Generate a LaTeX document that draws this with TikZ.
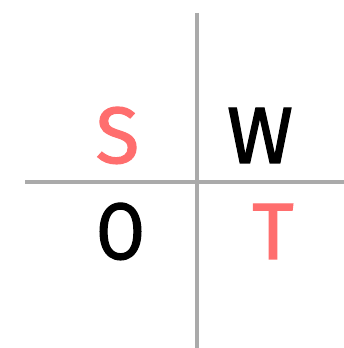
\documentclass[tikz,border=0pt]{standalone}
\usepackage{fontspec}
\setmainfont{Fira Sans}[FakeBold=1.5]
\definecolor{swotred}{HTML}{FF6E6E}
\definecolor{crossgray}{HTML}{AAAAAA}
\begin{document}
\begin{tikzpicture}[x=1pt, y=1pt, inner sep=0pt,
   letter/.style={anchor=base, font=\fontsize{80}{80}\selectfont}]
   \useasboundingbox (0,0) rectangle (344,348);
   \coordinate (top) at (197,335);
   \coordinate (bot) at (197,0);
   \coordinate (lft) at (25,166);
   \coordinate (rgt) at (344,166);
   \draw[crossgray, line width=4pt] (top) -- (bot);
   \draw[crossgray, line width=4pt] (lft) -- (rgt);
   \node[letter, text=swotred] (S) at (117.5,185) {S};
   \node[letter] (W) at (260,185) {W};
   \node[letter, xscale=.88, transform shape] (O) at (120.5,89) {O};
   \node[letter, text=swotred] (T) at (273,89) {T};
\end{tikzpicture}
\end{document}
